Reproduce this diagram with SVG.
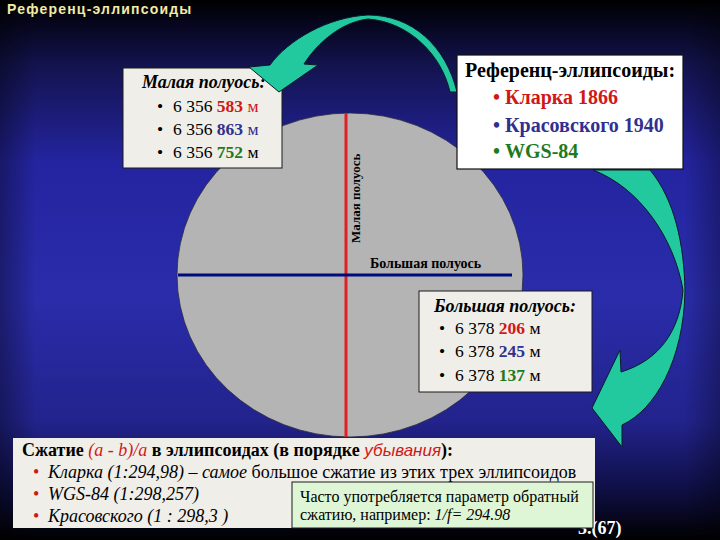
<svg xmlns="http://www.w3.org/2000/svg" width="720" height="540" viewBox="0 0 720 540">
<defs>
<linearGradient id="bg" x1="0" y1="0" x2="0" y2="1">
<stop offset="0" stop-color="#000000"/>
<stop offset="0.05" stop-color="#070722"/>
<stop offset="0.12" stop-color="#13134e"/>
<stop offset="0.3" stop-color="#2424a0"/>
<stop offset="0.55" stop-color="#2a2caa"/>
<stop offset="0.78" stop-color="#22238c"/>
<stop offset="0.9" stop-color="#10104a"/>
<stop offset="1" stop-color="#000000"/>
</linearGradient>
<linearGradient id="edge" x1="0" y1="0" x2="1" y2="0">
<stop offset="0" stop-color="#000000" stop-opacity="0.35"/>
<stop offset="0.05" stop-color="#000000" stop-opacity="0"/>
<stop offset="0.95" stop-color="#000000" stop-opacity="0"/>
<stop offset="1" stop-color="#000000" stop-opacity="0.3"/>
</linearGradient>
<style>
.serif{font-family:"Liberation Serif","Times New Roman",serif}
.sans{font-family:"Liberation Sans",Arial,sans-serif}
.b{font-weight:bold}
.i{font-style:italic}
.red{fill:#d01818}
.blue{fill:#30308f}
.green{fill:#1e7a1e}
.box{fill:#f0eee8;stroke:#1a1a1a;stroke-width:1}
.arrow{fill:#22c89e;stroke:#0b1a2a;stroke-width:1;stroke-linejoin:round}
</style>
</defs>
<rect x="0" y="0" width="720" height="540" fill="url(#bg)"/>
<rect x="0" y="0" width="720" height="540" fill="url(#edge)"/>

<text x="7" y="14" class="sans b" font-size="14" letter-spacing="1.2" fill="#f2eba4">Референц-эллипсоиды</text>

<g id="ellipsoid">
<ellipse cx="350" cy="275" rx="173" ry="162" fill="#b4b4b4" stroke="#2a2a40" stroke-width="0.8"/>
<line x1="346" y1="113" x2="346" y2="437" stroke="#e02020" stroke-width="3"/>
<line x1="178" y1="275" x2="512" y2="275" stroke="#000a80" stroke-width="3"/>
<text transform="translate(360,243) rotate(-90)" class="serif b" font-size="13" fill="#000">Малая полуось</text>
<text x="370" y="268" class="serif b" font-size="14" fill="#000">Большая полуось</text>
</g>

<g id="node-minor">
<rect x="123" y="68" width="159" height="100" class="box"/>
<text x="142" y="88" class="serif b i" font-size="18" fill="#000">Малая полуось:</text>
<text class="serif" font-size="17.5" fill="#000">
<tspan x="157" y="112">•</tspan><tspan x="173" y="112">6 356 </tspan><tspan class="b red">583</tspan><tspan class="red"> м</tspan>
<tspan x="157" y="135">•</tspan><tspan x="173" y="135">6 356 </tspan><tspan class="b blue">863</tspan><tspan class="blue"> м</tspan>
<tspan x="157" y="158">•</tspan><tspan x="173" y="158">6 356 </tspan><tspan class="b green">752</tspan><tspan> м</tspan>
</text>
</g>

<g id="connectors">
<path class="arrow" d="M279,92 L249,67 L270,65 C288,40 328,17 368,15 C412,15 446,46 457,92 L450,92 C442,56 410,22 368,19 C342,22 318,42 304,64 L318,65 Z"/>
<path class="arrow" d="M593,170 C640,188 674,238 683,290 C680,330 660,360 621,372 L620,350 L592,408 L622,447 L622,425 C655,410 684,360 685,290 C684,245 675,200 650,170 Z"/>
</g>

<g id="node-ref">
<rect x="457" y="55" width="226" height="114" fill="#ffffff" stroke="#111" stroke-width="1.2"/>
<text x="465" y="77" class="serif b" font-size="20" fill="#000">Референц-эллипсоиды:</text>
<text class="serif b" font-size="20">
<tspan x="493" y="104" class="red">• Кларка 1866</tspan>
<tspan x="493" y="132" class="blue">• Красовского 1940</tspan>
<tspan x="493" y="158" class="green">• WGS-84</tspan>
</text>
</g>

<g id="node-major">
<rect x="419" y="291" width="173" height="101" class="box"/>
<text x="434" y="312" class="serif b i" font-size="18" fill="#000">Большая полуось:</text>
<text class="serif" font-size="17.5" fill="#000">
<tspan x="439" y="334">•</tspan><tspan x="455" y="334">6 378 </tspan><tspan class="b red">206</tspan><tspan> м</tspan>
<tspan x="439" y="357">•</tspan><tspan x="455" y="357">6 378 </tspan><tspan class="b blue">245</tspan><tspan> м</tspan>
<tspan x="439" y="381">•</tspan><tspan x="455" y="381">6 378 </tspan><tspan class="b green">137</tspan><tspan> м</tspan>
</text>
</g>

<g id="node-compress">
<rect x="13" y="438" width="582" height="90" fill="#f0eee8"/>
<text x="22" y="456" class="serif" font-size="18" fill="#000"><tspan class="b">Сжатие </tspan><tspan class="i red">(a - b)/a</tspan><tspan class="b"> в эллипсоидах (в порядке </tspan><tspan class="sans i red" font-size="17">убывания</tspan><tspan class="b">):</tspan></text>
<text class="serif" font-size="18" fill="#000">
<tspan x="33" y="478" class="red">•</tspan><tspan x="48" y="478" class="i">Кларка (1:294,98) – самое</tspan><tspan> большое сжатие из этих трех эллипсоидов</tspan>
<tspan x="33" y="500" class="red">•</tspan><tspan x="48" y="500" class="i">WGS-84 (1:298,257)</tspan>
<tspan x="33" y="522" class="red">•</tspan><tspan x="48" y="522" class="i">Красовского (1 : 298,3 )</tspan>
</text>
</g>

<text x="578" y="534" class="serif b" font-size="18" fill="#ffffff">3.(67)</text>

<g id="node-note">
<rect x="292" y="482" width="301" height="46" fill="#dff6d6" stroke="#1a1a1a" stroke-width="1"/>
<text class="serif" font-size="16" fill="#000">
<tspan x="300" y="502">Часто употребляется параметр обратный</tspan>
<tspan x="300" y="520">сжатию, например: </tspan><tspan class="i">1/f= 294.98</tspan>
</text>
</g>
</svg>
